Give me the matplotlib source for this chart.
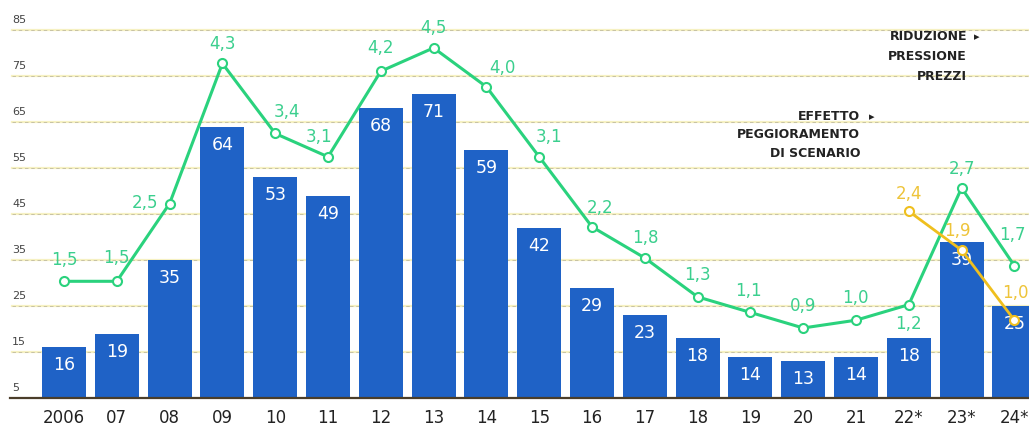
import matplotlib
matplotlib.use('Agg')
import matplotlib.pyplot as plt
import matplotlib.transforms as mtransforms

# data
years = ['2006', '07', '08', '09', '10', '11', '12', '13', '14', '15',
         '16', '17', '18', '19', '20', '21', '22*', '23*', '24*']
bars = [16, 19, 35, 64, 53, 49, 68, 71, 59, 42, 29, 23, 18, 14, 13, 14, 18, 39, 25]
green = [1.5, 1.5, 2.5, 4.3, 3.4, 3.1, 4.2, 4.5, 4.0, 3.1, 2.2, 1.8, 1.3, 1.1, 0.9, 1.0, 1.2, 2.7, 1.7]
yellow_idx = [16, 17, 18]
yellow = [2.4, 1.9, 1.0]
yticks = [5, 15, 25, 35, 45, 55, 65, 75, 85]

# label offsets in pixels (dx, dy) for the line values
green_off = [(0, 22), (0, 24), (-25, 2), (0, 20), (12, 22), (-9, 21), (0, 24), (0, 21),
             (16, 20), (10, 21), (8, 20), (1, 21), (0, 23), (-2, 22), (0, 23), (-1, 23),
             (0, -18), (0, 20), (-2, 32)]
yellow_off = [(0, 18), (-4, 20), (1, 28)]

BLUE = '#1f62c6'
GREEN = '#2ad27d'
GREEN_TXT = '#3bcf8e'
YELLOW = '#efbf1e'
YELLOW_TXT = '#eec43a'

fig = plt.figure(figsize=(10.29, 4.27), dpi=100)
ax = fig.add_axes([0, 28 / 427, 1, 399 / 427])
x = list(range(len(years)))

ax.set_xlim((0 - 64) / 52.8, (1029 - 64) / 52.8)
ax.set_ylim(5, 5 + 399 / 4.6)

# grid lines: pale yellow band with faint dark dashes on top
x0 = 12 / 1029
for v in yticks[1:]:
    ax.axhline(v, xmin=x0, color='#f6f1c2', lw=1.6, zorder=0)
    ax.axhline(v, xmin=x0, color='#9a9484', lw=0.5, ls=(0, (5, 4)), alpha=0.7, zorder=0)
ax.axhline(5, xmin=10 / 1029, color='#4a3d2a', lw=1.6, zorder=3, clip_on=False)

trans = mtransforms.blended_transform_factory(ax.transAxes, ax.transData)
for v in yticks:
    ax.annotate(str(v), (12 / 1029, v), xycoords=trans, xytext=(0, 11),
                textcoords='offset pixels', ha='left', va='center',
                fontsize=8, color='#444444')

ax.bar(x, bars, width=0.83, color=BLUE, zorder=2)
for i, v in enumerate(bars):
    ax.annotate(str(v), (i, v), xytext=(0, -17), textcoords='offset pixels',
                ha='center', va='center', fontsize=12.5, color='white', zorder=4)

ax.set_xticks(x, years)
for s in ax.spines.values():
    s.set_visible(False)

ax2 = ax.twinx()
ax2.set_ylim(0, 399 / 77.8)
ax2.axis('off')
ax.set_yticks([])
ax.tick_params(axis='x', length=0, pad=7, labelsize=12, labelcolor='#222222')

ax2.plot(x, green, color=GREEN, lw=2.2, marker='o', ms=6.5, mfc='white',
         mec=GREEN, mew=1.5, zorder=5)
for i, v in enumerate(green):
    dx, dy = green_off[i]
    ax2.annotate(f'{v:.1f}'.replace('.', ','), (i, v), xytext=(dx, dy),
                 textcoords='offset pixels', ha='center', va='center',
                 fontsize=12, color=GREEN_TXT, zorder=6)

ax2.plot(yellow_idx, yellow, color=YELLOW, lw=2.0, marker='o', ms=6.5, mfc='white',
         mec=YELLOW, mew=1.5, zorder=5)
for k, (i, v) in enumerate(zip(yellow_idx, yellow)):
    dx, dy = yellow_off[k]
    ax2.annotate(f'{v:.1f}'.replace('.', ','), (i, v), xytext=(dx, dy),
                 textcoords='offset pixels', ha='center', va='center',
                 fontsize=12, color=YELLOW_TXT, zorder=6)

# side notes
note = dict(fontsize=9, fontweight='bold', color='#222222', ha='right', va='center')
fig.text(967 / 1029, 1 - 37 / 427, 'RIDUZIONE', **note)
fig.text(967 / 1029, 1 - 56 / 427, 'PRESSIONE', **note)
fig.text(967 / 1029, 1 - 76 / 427, 'PREZZI', **note)
fig.text(977 / 1029, 1 - 37 / 427, '▸', fontsize=8, color='#222222', ha='center', va='center')
fig.text(860 / 1029, 1 - 117 / 427, 'EFFETTO', **note)
fig.text(860 / 1029, 1 - 135 / 427, 'PEGGIORAMENTO', **note)
fig.text(860 / 1029, 1 - 154 / 427, 'DI SCENARIO', **note)
fig.text(872 / 1029, 1 - 117 / 427, '▸', fontsize=8, color='#222222', ha='center', va='center')

fig.savefig('out.png', dpi=100, facecolor='white')
